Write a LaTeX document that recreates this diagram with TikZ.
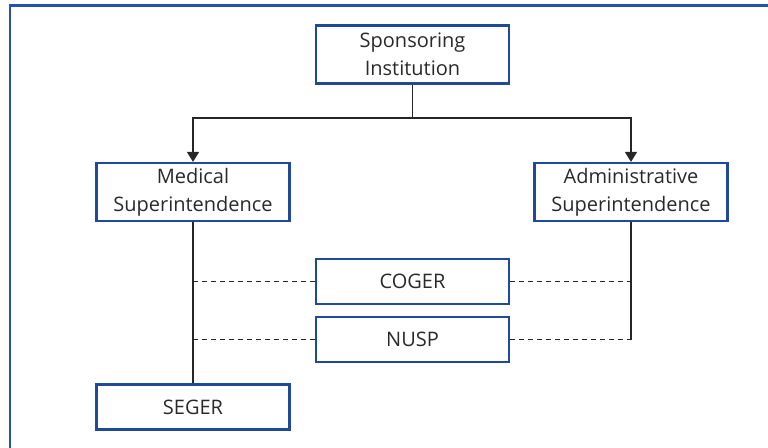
\documentclass[tikz,border=0pt]{standalone}
\usepackage{fontspec}
\setmainfont{Open Sans}
\usetikzlibrary{arrows.meta}
\definecolor{boxblue}{HTML}{1F4A9A}
\definecolor{frameblue}{HTML}{2552B0}
\definecolor{txt}{HTML}{2A2A2A}
\begin{document}
\begin{tikzpicture}[x=1pt,y=-1pt,
  orgbox/.style={draw=boxblue,line width=2.2pt,fill=white,text=txt,align=center,
    font=\fontsize{20}{28}\selectfont,inner sep=0pt,minimum width=193pt},
  tallbox/.style={orgbox,minimum height=58pt},
  flatbox/.style={orgbox,minimum height=45pt},
  conn/.style={draw=black!85,line width=1.4pt},
  dashconn/.style={conn,dash pattern=on 5pt off 4pt},
  arr/.style={conn,-{Triangle[width=12pt,length=10pt]}}]
\useasboundingbox (0,0) rectangle (768,447);
\begin{scope}
\clip (0,0) rectangle (768,447);
\draw[frameblue,line width=2.2pt] (10,5.5) rectangle (800,480);
\end{scope}
\node[tallbox] (sp) at (412.5,54.5) {Sponsoring\\Institution};
\node[tallbox] (med) at (193,192) {Medical\\Superintendence};
\node[tallbox] (adm) at (631,192) {Administrative\\Superintendence};
\node[flatbox] (cog) at (412.5,281.5) {COGER};
\node[flatbox] (nus) at (412.5,339.5) {NUSP};
\node[flatbox] (seg) at (193,407) {SEGER};
\coordinate (j) at (412.5,118);
\draw[conn] (sp.south) -- (j);
\draw[arr] (j) -| (med.north);
\draw[arr] (j) -| (adm.north);
\draw[conn] (med.south) -- (seg.north);
\coordinate (a2) at (adm.south |- nus.east);
\draw[conn] (adm.south) -- (a2);
\draw[dashconn] (med.south |- cog.west) -- (cog.west);
\draw[dashconn] (cog.east) -- (adm.south |- cog.east);
\draw[dashconn] (med.south |- nus.west) -- (nus.west);
\draw[dashconn] (nus.east) -- (a2);
\end{tikzpicture}
\end{document}
